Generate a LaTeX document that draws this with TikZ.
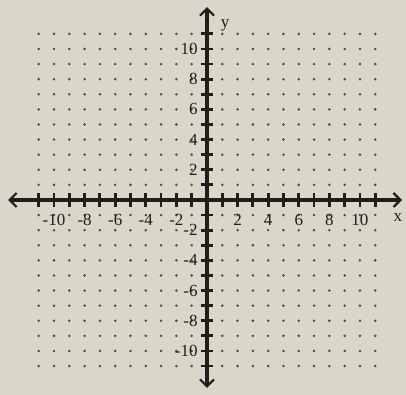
\documentclass[tikz,border=0pt]{standalone}
\usepackage{fontspec}
\setmainfont{Liberation Serif}
\usetikzlibrary{arrows.meta}
\definecolor{paper}{RGB}{219,214,202}
\definecolor{ink}{RGB}{32,29,26}
\definecolor{dotc}{RGB}{80,75,68}
\tikzset{
  axisline/.style={draw=ink,line width=3.2pt,{Straight Barb[length=7pt,width=14pt,line width=2.2pt]}-{Straight Barb[length=7pt,width=14pt,line width=2.2pt]}},
  tickline/.style={draw=ink,line width=2.8pt},
  gdot/.style={fill=dotc},
  lab/.style={text=ink,font=\fontsize{17}{18}\selectfont,inner sep=0pt},
}
\begin{document}
\begin{tikzpicture}[x=15.3pt,y=15.1pt]
\path[fill=paper] (-13.53,-12.914) rectangle (13.01,13.245);
\useasboundingbox (-13.53,-12.914) rectangle (13.01,13.245);
% dots
\foreach \i in {-11,...,11}{
  \foreach \j in {-11,...,11}{
    \ifnum\i=0\relax\else\ifnum\j=0\relax\else
      \fill[gdot] (\i,\j) circle (1.4pt);
    \fi\fi
  }
}
% axes
\coordinate (xl) at (-13.0,0);
\coordinate (xr) at (12.75,0);
\coordinate (yt) at (0,12.78);
\coordinate (yb) at (0,-12.45);
\draw[axisline] (xl) -- (xr);
\draw[axisline] (yb) -- (yt);
% ticks
\foreach \i in {-11,...,-1,1,2,...,11}{
  \draw[tickline] (\i,-0.46) -- (\i,0.46);
  \draw[tickline] (-0.42,\i) -- (0.42,\i);
}
% x labels
\foreach \i in {-10,-8,-6,-4,-2,2,4,6,8,10}{
  \node[lab] (lx\i) at (\i,-1.32) {\i};
}
% y labels
\foreach \i in {-10,-8,-6,-4,-2,2,4,6,8,10}{
  \node[lab,anchor=east] (ly\i) at (-0.6,\i) {\i};
}
\node[lab] (xlab) at (12.48,-1.19) {x};
\node[lab] (ylab) at (1.18,11.59) {y};
\end{tikzpicture}
\end{document}
